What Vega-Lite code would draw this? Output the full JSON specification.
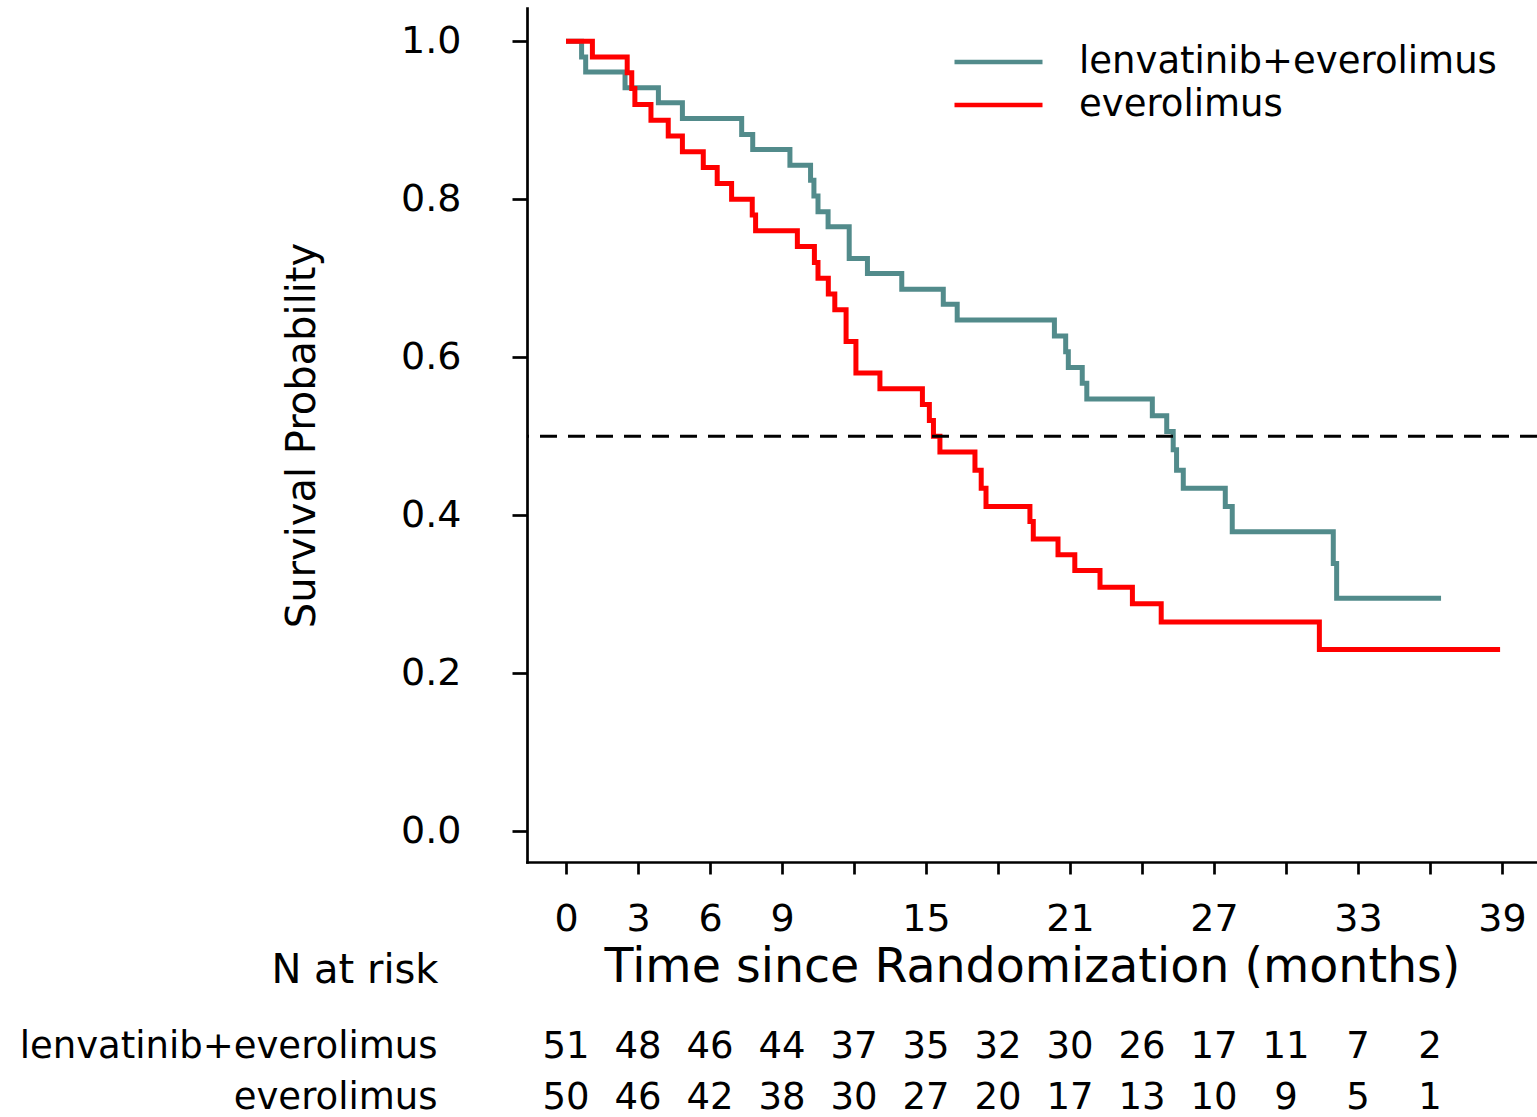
{
  "$schema": "https://vega.github.io/schema/vega-lite/v6.json",
  "autosize": {"type": "none"},
  "padding": {"left": 527, "top": 8, "right": 1010, "bottom": 1109},
  "background": "white",
  "config": {
    "view": {"stroke": null},
    "font": "DejaVu Sans",
    "axis": {
      "domainColor": "black", "tickColor": "black", "labelColor": "black", "titleColor": "black",
      "grid": false, "titleFontWeight": "normal", "domainWidth": 2.7, "tickWidth": 2.7,
      "domainCap": "square", "labelFont": "DejaVu Sans", "titleFont": "DejaVu Sans", "labelLimit": 0, "titleLimit": 0
    },
    "legend": {"labelFont": "DejaVu Sans", "labelColor": "black", "labelLimit": 0}
  },
  "datasets": {
    "km": [
      {"arm": "lenvatinib+everolimus", "t": 0, "S": 1.0},
      {"arm": "lenvatinib+everolimus", "t": 0.65, "S": 0.980},
      {"arm": "lenvatinib+everolimus", "t": 0.82, "S": 0.961},
      {"arm": "lenvatinib+everolimus", "t": 2.46, "S": 0.941},
      {"arm": "lenvatinib+everolimus", "t": 3.85, "S": 0.922},
      {"arm": "lenvatinib+everolimus", "t": 4.85, "S": 0.902},
      {"arm": "lenvatinib+everolimus", "t": 7.32, "S": 0.882},
      {"arm": "lenvatinib+everolimus", "t": 7.78, "S": 0.863},
      {"arm": "lenvatinib+everolimus", "t": 9.33, "S": 0.843},
      {"arm": "lenvatinib+everolimus", "t": 10.19, "S": 0.824},
      {"arm": "lenvatinib+everolimus", "t": 10.33, "S": 0.804},
      {"arm": "lenvatinib+everolimus", "t": 10.5, "S": 0.784},
      {"arm": "lenvatinib+everolimus", "t": 10.92, "S": 0.765},
      {"arm": "lenvatinib+everolimus", "t": 11.8, "S": 0.725},
      {"arm": "lenvatinib+everolimus", "t": 12.56, "S": 0.706},
      {"arm": "lenvatinib+everolimus", "t": 13.99, "S": 0.686},
      {"arm": "lenvatinib+everolimus", "t": 15.72, "S": 0.667},
      {"arm": "lenvatinib+everolimus", "t": 16.3, "S": 0.647},
      {"arm": "lenvatinib+everolimus", "t": 20.35, "S": 0.627},
      {"arm": "lenvatinib+everolimus", "t": 20.82, "S": 0.607},
      {"arm": "lenvatinib+everolimus", "t": 20.93, "S": 0.587},
      {"arm": "lenvatinib+everolimus", "t": 21.51, "S": 0.567},
      {"arm": "lenvatinib+everolimus", "t": 21.7, "S": 0.547},
      {"arm": "lenvatinib+everolimus", "t": 24.43, "S": 0.526},
      {"arm": "lenvatinib+everolimus", "t": 25.03, "S": 0.506},
      {"arm": "lenvatinib+everolimus", "t": 25.3, "S": 0.483},
      {"arm": "lenvatinib+everolimus", "t": 25.44, "S": 0.457},
      {"arm": "lenvatinib+everolimus", "t": 25.72, "S": 0.434},
      {"arm": "lenvatinib+everolimus", "t": 27.47, "S": 0.411},
      {"arm": "lenvatinib+everolimus", "t": 27.76, "S": 0.379},
      {"arm": "lenvatinib+everolimus", "t": 31.97, "S": 0.339},
      {"arm": "lenvatinib+everolimus", "t": 32.11, "S": 0.295},
      {"arm": "lenvatinib+everolimus", "t": 36.46, "S": 0.295},
      {"arm": "everolimus", "t": 0, "S": 1.0},
      {"arm": "everolimus", "t": 1.1, "S": 0.98},
      {"arm": "everolimus", "t": 2.55, "S": 0.96},
      {"arm": "everolimus", "t": 2.74, "S": 0.94},
      {"arm": "everolimus", "t": 2.87, "S": 0.92},
      {"arm": "everolimus", "t": 3.54, "S": 0.90},
      {"arm": "everolimus", "t": 4.26, "S": 0.88},
      {"arm": "everolimus", "t": 4.85, "S": 0.86},
      {"arm": "everolimus", "t": 5.72, "S": 0.84},
      {"arm": "everolimus", "t": 6.3, "S": 0.82},
      {"arm": "everolimus", "t": 6.9, "S": 0.80},
      {"arm": "everolimus", "t": 7.76, "S": 0.78},
      {"arm": "everolimus", "t": 7.9, "S": 0.76},
      {"arm": "everolimus", "t": 9.64, "S": 0.74},
      {"arm": "everolimus", "t": 10.35, "S": 0.72},
      {"arm": "everolimus", "t": 10.5, "S": 0.70},
      {"arm": "everolimus", "t": 10.93, "S": 0.68},
      {"arm": "everolimus", "t": 11.2, "S": 0.66},
      {"arm": "everolimus", "t": 11.67, "S": 0.62},
      {"arm": "everolimus", "t": 12.08, "S": 0.58},
      {"arm": "everolimus", "t": 13.08, "S": 0.56},
      {"arm": "everolimus", "t": 14.85, "S": 0.54},
      {"arm": "everolimus", "t": 15.14, "S": 0.52},
      {"arm": "everolimus", "t": 15.31, "S": 0.50},
      {"arm": "everolimus", "t": 15.58, "S": 0.48},
      {"arm": "everolimus", "t": 17.04, "S": 0.457},
      {"arm": "everolimus", "t": 17.3, "S": 0.434},
      {"arm": "everolimus", "t": 17.5, "S": 0.411},
      {"arm": "everolimus", "t": 19.33, "S": 0.392},
      {"arm": "everolimus", "t": 19.47, "S": 0.370},
      {"arm": "everolimus", "t": 20.5, "S": 0.350},
      {"arm": "everolimus", "t": 21.2, "S": 0.330},
      {"arm": "everolimus", "t": 22.25, "S": 0.309},
      {"arm": "everolimus", "t": 23.6, "S": 0.288},
      {"arm": "everolimus", "t": 24.8, "S": 0.265},
      {"arm": "everolimus", "t": 31.39, "S": 0.230},
      {"arm": "everolimus", "t": 38.92, "S": 0.230}
    ],
    "risk": [
      {"arm": "lenvatinib+everolimus", "t": 0, "n": 51},
      {"arm": "lenvatinib+everolimus", "t": 3, "n": 48},
      {"arm": "lenvatinib+everolimus", "t": 6, "n": 46},
      {"arm": "lenvatinib+everolimus", "t": 9, "n": 44},
      {"arm": "lenvatinib+everolimus", "t": 12, "n": 37},
      {"arm": "lenvatinib+everolimus", "t": 15, "n": 35},
      {"arm": "lenvatinib+everolimus", "t": 18, "n": 32},
      {"arm": "lenvatinib+everolimus", "t": 21, "n": 30},
      {"arm": "lenvatinib+everolimus", "t": 24, "n": 26},
      {"arm": "lenvatinib+everolimus", "t": 27, "n": 17},
      {"arm": "lenvatinib+everolimus", "t": 30, "n": 11},
      {"arm": "lenvatinib+everolimus", "t": 33, "n": 7},
      {"arm": "lenvatinib+everolimus", "t": 36, "n": 2},
      {"arm": "everolimus", "t": 0, "n": 50},
      {"arm": "everolimus", "t": 3, "n": 46},
      {"arm": "everolimus", "t": 6, "n": 42},
      {"arm": "everolimus", "t": 9, "n": 38},
      {"arm": "everolimus", "t": 12, "n": 30},
      {"arm": "everolimus", "t": 15, "n": 27},
      {"arm": "everolimus", "t": 18, "n": 20},
      {"arm": "everolimus", "t": 21, "n": 17},
      {"arm": "everolimus", "t": 24, "n": 13},
      {"arm": "everolimus", "t": 27, "n": 10},
      {"arm": "everolimus", "t": 30, "n": 9},
      {"arm": "everolimus", "t": 33, "n": 5},
      {"arm": "everolimus", "t": 36, "n": 1}
    ]
  },
  "bounds": "flush",
  "spacing": 172,
  "resolve": {"scale": {"x": "independent", "y": "independent"}},
  "vconcat": [
    {
      "width": 1010,
      "height": 854,
      "layer": [
        {
          "data": {"name": "km"},
          "mark": {"type": "line", "interpolate": "step-after", "strokeWidth": 5, "strokeCap": "butt", "strokeJoin": "miter"},
          "encoding": {
            "x": {
              "field": "t", "type": "quantitative",
              "scale": {"domain": [-1.625, 40.458], "nice": false, "zero": false},
              "axis": {
                "values": [0, 3, 6, 9, 12, 15, 18, 21, 24, 27, 30, 33, 36, 39],
                "labelExpr": "indexof([12,18,24,30,36], datum.value) >= 0 ? '' : datum.label",
                "tickSize": 12, "labelPadding": 26, "labelFontSize": 38,
                "labelFlush": false, "labelOverlap": false,
                "title": "Time since Randomization (months)",
                "titleFontSize": 47.5, "titleY": 119, "titleBaseline": "alphabetic"
              }
            },
            "y": {
              "field": "S", "type": "quantitative",
              "scale": {"domain": [-0.0389, 1.042], "nice": false, "zero": false},
              "axis": {
                "values": [0, 0.2, 0.4, 0.6, 0.8, 1.0], "format": ".1f",
                "tickSize": 15, "labelPadding": 51, "labelFontSize": 38,
                "labelFlush": false, "labelOverlap": false,
                "title": "Survival Probability", "titleFontSize": 40,
                "titleX": -213, "titleY": 427, "titleBaseline": "alphabetic"
              }
            },
            "color": {
              "field": "arm", "type": "nominal",
              "scale": {"domain": ["lenvatinib+everolimus", "everolimus"], "range": ["#528B8B", "#FF0000"]},
              "legend": {
                "title": null, "orient": "none", "legendX": 425, "legendY": 35,
                "symbolType": "stroke", "symbolSize": 7744, "symbolStrokeWidth": 4.5,
                "labelFontSize": 37, "labelOffset": 34, "rowPadding": 5, "clipHeight": 38, "padding": 0
              }
            }
          }
        },
        {
          "data": {"values": [{}]},
          "mark": {"type": "rule", "strokeDash": [17, 11], "strokeWidth": 3, "color": "black"},
          "encoding": {"y": {"datum": 0.5}}
        }
      ]
    },
    {
      "width": 1010,
      "height": 76.5,
      "data": {"name": "risk"},
      "mark": {"type": "text", "fontSize": 37, "baseline": "middle", "align": "center", "color": "black"},
      "encoding": {
        "x": {
          "field": "t", "type": "quantitative",
          "scale": {"domain": [-1.625, 40.458], "nice": false, "zero": false},
          "axis": null
        },
        "y": {
          "field": "arm", "type": "nominal",
          "sort": ["lenvatinib+everolimus", "everolimus"],
          "scale": {"type": "point", "padding": 0.25},
          "axis": {
            "title": "N at risk", "domain": false, "ticks": false, "tickSize": 0,
            "labelPadding": 90, "labelFontSize": 37,
            "titleAngle": 0, "titleX": -89, "titleY": -63.5, "titleAlign": "right",
            "titleBaseline": "middle", "titleFontSize": 40
          }
        },
        "text": {"field": "n", "type": "quantitative"}
      }
    }
  ]
}
